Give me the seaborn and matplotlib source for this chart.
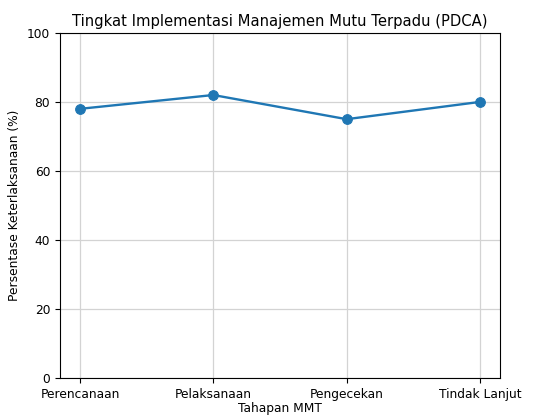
import matplotlib
matplotlib.use("Agg")
import matplotlib.pyplot as plt
import seaborn as sns
import pandas as pd

tahapan = ["Perencanaan", "Pelaksanaan", "Pengecekan", "Tindak Lanjut"]
persentase = [78, 82, 75, 80]

df = pd.DataFrame({"Tahapan MMT": tahapan, "Persentase": persentase})

fig = plt.figure(figsize=(5.5, 4.16), dpi=100)
ax = fig.add_axes([0.109, 0.091, 0.8, 0.83])

sns.lineplot(data=df, x="Tahapan MMT", y="Persentase", marker="o",
             color="#1f77b4", linewidth=1.7, markersize=7,
             markeredgecolor="#1f77b4", ax=ax, sort=False)

ax.set_ylim(0, 100)
ax.set_title("Tingkat Implementasi Manajemen Mutu Terpadu (PDCA)", fontsize=10.6, pad=5)
ax.set_xlabel("Tahapan MMT", fontsize=8.8, labelpad=1)
ax.set_ylabel("Persentase Keterlaksanaan (%)", fontsize=8.8)
ax.tick_params(labelsize=8.8)
ax.grid(True, color="#d3d3d3", linewidth=0.9)
ax.set_axisbelow(True)

fig.savefig("out.png", dpi=100)
